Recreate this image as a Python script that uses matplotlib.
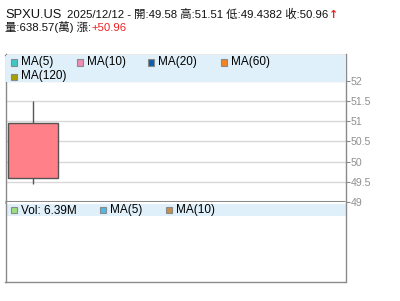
import matplotlib
matplotlib.use('Agg')
import matplotlib.pyplot as plt
import matplotlib.patches as patches

plt.rcParams['font.family'] = ['Liberation Sans', 'Noto Sans CJK TC', 'DejaVu Sans']

# data
symbol = 'SPXU.US'
dates = ['2025/12/12']
opens = [49.58]
highs = [51.51]
lows = [49.4382]
closes = [50.96]
volume_wan = 638.57
change = '+50.96'
vol_label = '6.39M'
price_ticks = [49, 49.5, 50, 50.5, 51, 51.5, 52]
price_tick_labels = ['49', '49.5', '50', '50.5', '51', '51.5', '52']
ma_names = ['MA(5)', 'MA(10)', 'MA(20)', 'MA(60)', 'MA(120)']
ma_colors = ['#3cc8c8', '#f28cb4', '#0b5fae', '#f58220', '#a8a000']
vol_names = ['Vol: ' + vol_label, 'MA(5)', 'MA(10)']
vol_colors = ['#9be07f', '#4cb8e8', '#c4904a']

W, H = 400, 301
fig = plt.figure(figsize=(W / 100, H / 100), dpi=100)


def fx(px):
    return px / W


def fy(py):
    return 1 - py / H


def add_ax(x0, y0, x1, y1):
    return fig.add_axes([fx(x0), fy(y1), fx(x1) - fx(x0), fy(y0) - fy(y1)])


gray = '#8a8a8a'
band = '#dff0fa'

# ---- price panel
ax = add_ax(5.5, 54.5, 345.5, 202)
ax.set_xlim(-0.44, 4.98)
ax.set_ylim(48.99, 52.67)
for s in ['left', 'right', 'top']:
    ax.spines[s].set_color(gray)
    ax.spines[s].set_linewidth(1)
ax.spines['bottom'].set_color(gray)
ax.spines['bottom'].set_linewidth(2.2)
ax.spines['bottom'].set_capstyle('butt')
ax.yaxis.tick_right()
ax.set_yticks(price_ticks)
ax.set_yticklabels(price_tick_labels)
ax.tick_params(axis='y', colors=gray, labelcolor='#909090', length=3,
               width=0.8, labelsize=7.6, pad=1)
ax.set_xticks([])
ax.grid(axis='y', color='#d8d8d8', linewidth=1)
ax.set_axisbelow(True)

for i in range(len(dates)):
    o, h, l, c = opens[i], highs[i], lows[i], closes[i]
    ax.vlines(i, l, h, color='#555555', linewidth=1, zorder=2)
    ax.add_patch(patches.Rectangle((i - 0.4, min(o, c)), 0.8, abs(c - o),
                                   facecolor='#ff8088', edgecolor='#555555',
                                   linewidth=1, zorder=3))

# legend band
ax.add_patch(patches.Rectangle((0, 1 - 27.5 / 147.5), 1, 27.5 / 147.5,
                               transform=ax.transAxes, facecolor=band,
                               edgecolor='none', zorder=4))
leg_pos = [(11, 62.5), (77, 62.5), (148, 62.5), (221, 62.5), (11, 76.5)]
for (px, py), name, col in zip(leg_pos, ma_names, ma_colors):
    fig.patches.append(patches.Rectangle((fx(px), fy(py + 3)), 6 / W, 6 / H,
                                         transform=fig.transFigure,
                                         facecolor=col, edgecolor=gray,
                                         linewidth=0.8, zorder=5))
    fig.text(fx(px + 10), fy(py), name, fontsize=8.5, va='center',
             ha='left', color='#000000', zorder=6)

# ---- volume panel
vax = add_ax(5.5, 202, 345.5, 282)
vax.set_xlim(-0.44, 4.98)
vax.set_xticks([])
vax.set_yticks([])
for s in ['left', 'right', 'bottom']:
    vax.spines[s].set_color(gray)
    vax.spines[s].set_linewidth(1)
vax.spines['top'].set_visible(False)
vax.add_patch(patches.Rectangle((0, 1 - 14 / 80), 1, 12 / 80,
                                transform=vax.transAxes, facecolor=band,
                                edgecolor='none'))
vleg_x = [11, 100, 166]
for px, name, col in zip(vleg_x, vol_names, vol_colors):
    fig.patches.append(patches.Rectangle((fx(px), fy(213)), 6 / W, 6 / H,
                                         transform=fig.transFigure,
                                         facecolor=col, edgecolor=gray,
                                         linewidth=0.8, zorder=5))
    fig.text(fx(px + 10), fy(210.5), name, fontsize=8.5, va='center',
             ha='left', color='#000000', zorder=6)

# ---- header text
fig.text(fx(5), fy(17.5), symbol, fontsize=9.3, va='baseline',
         color='#111111')
info = '%s - 開:%.2f 高:%.2f 低:%.4f 收:%.2f' % (dates[0], opens[0], highs[0],
                                              lows[0], closes[0])
t2 = fig.text(fx(67), fy(17.5), info, fontsize=8.2, va='baseline',
              color='#111111')
t3 = fig.text(fx(5), fy(31), '量:%.2f(萬) 漲:' % volume_wan, fontsize=8.2,
              va='baseline', color='#111111')
fig.canvas.draw()
bb2 = t2.get_window_extent()
fig.text(bb2.x1 / W + 1 / W, fy(17.5), '↑', fontsize=8, va='baseline',
         color='#ee2222', fontweight='bold', family='DejaVu Sans')
bb = t3.get_window_extent()
fig.text(bb.x1 / W, fy(31), change, fontsize=8.2, va='baseline',
         color='#ee2222')

fig.savefig('out.png', dpi=100)
